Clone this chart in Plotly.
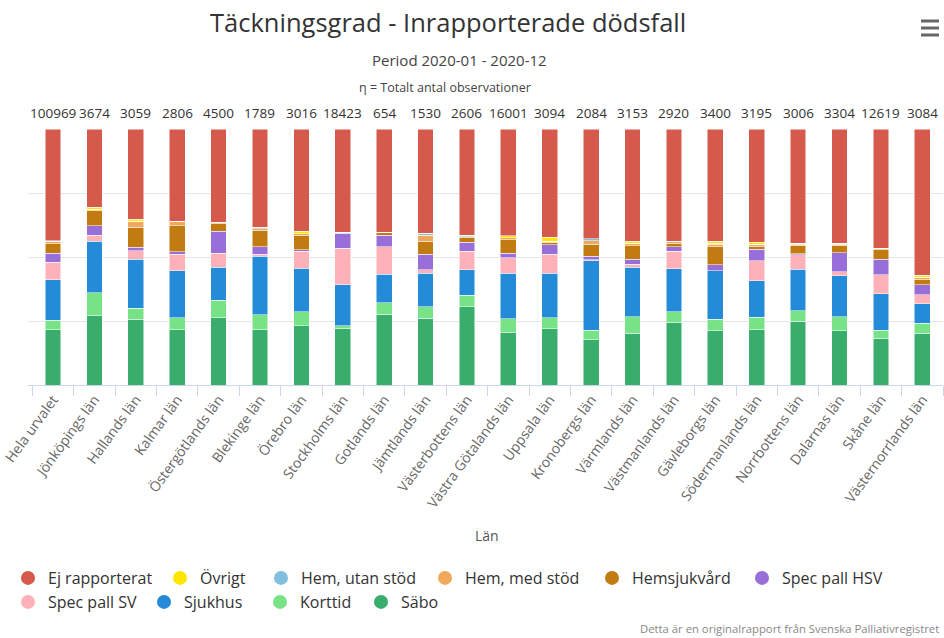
import plotly.graph_objects as go

categories = ["Hela urvalet", "Jönköpings län", "Hallands län", "Kalmar län", "Östergötlands län",
              "Blekinge län", "Örebro län", "Stockholms län", "Gotlands län", "Jämtlands län",
              "Västerbottens län", "Västra Götalands län", "Uppsala län", "Kronobergs län",
              "Värmlands län", "Västmanlands län", "Gävleborgs län", "Södermanlands län",
              "Norrbottens län", "Dalarnas län", "Skåne län", "Västernorrlands län"]

n_obs = [100969, 3674, 3059, 2806, 4500, 1789, 3016, 18423, 654, 1530, 2606, 16001,
         3094, 2084, 3153, 2920, 3400, 3195, 3006, 3304, 12619, 3084]

# stacked bottom -> top (percent)
sabo = [21.5, 27.0, 25.7, 21.5, 26.2, 21.5, 23.1, 22.2, 27.6, 26.1, 30.6, 20.6, 22.0, 17.6, 20.2, 24.5, 21.1, 21.5, 25.0, 21.1, 18.3, 20.2]
korttid = [3.7, 9.1, 4.3, 4.7, 7.0, 6.0, 5.5, 1.0, 4.5, 4.5, 4.5, 5.2, 4.2, 3.7, 6.4, 4.1, 4.6, 5.0, 4.1, 5.5, 3.0, 3.9]
sjukhus = [15.9, 20.0, 19.2, 18.5, 12.8, 22.7, 17.0, 15.9, 11.1, 13.1, 10.0, 17.9, 17.5, 27.3, 19.4, 16.9, 18.9, 14.2, 16.1, 16.0, 14.4, 7.6]
spec_sv = [6.9, 2.4, 3.3, 6.3, 5.5, 0.9, 6.6, 14.4, 10.9, 1.3, 7.1, 6.1, 7.4, 0.3, 1.2, 6.7, 0.0, 7.8, 5.6, 1.6, 7.3, 3.5]
spec_hsv = [3.5, 3.7, 1.3, 1.0, 8.6, 3.0, 0.7, 5.7, 4.4, 6.1, 3.5, 1.7, 3.7, 1.3, 2.0, 1.9, 2.3, 4.6, 0.4, 7.4, 6.2, 3.9]
hemsjuk = [3.6, 5.9, 7.9, 10.2, 2.9, 6.3, 5.6, 0.4, 1.2, 5.1, 1.9, 5.2, 1.0, 4.8, 5.2, 1.3, 7.2, 1.1, 3.3, 3.0, 3.6, 2.3]
hem_med = [0.8, 0.6, 2.2, 1.8, 0.5, 0.6, 0.6, 0.0, 0.0, 2.3, 0.4, 0.9, 0.4, 1.3, 0.9, 0.7, 0.9, 0.7, 0.4, 0.3, 0.7, 0.7]
hem_utan = [0.2, 0.0, 0.0, 0.0, 0.1, 0.5, 0.0, 0.0, 0.0, 0.7, 0.5, 0.0, 0.0, 0.8, 0.0, 0.0, 0.3, 0.0, 0.4, 0.5, 0.0, 0.0]
ovrigt = [0.2, 0.8, 0.9, 0.0, 0.0, 0.2, 1.0, 0.0, 0.0, 0.0, 0.0, 0.8, 1.6, 0.0, 0.9, 0.0, 0.8, 0.9, 0.0, 0.0, 0.0, 0.7]
ej_rapp = [43.7, 30.5, 35.2, 36.0, 36.4, 38.3, 39.9, 40.4, 40.3, 40.8, 41.5, 41.6, 42.2, 42.9, 43.8, 43.9, 43.9, 44.2, 44.7, 44.6, 46.5, 57.2]

series = [
    ("Säbo", sabo, "#39ae6c"),
    ("Korttid", korttid, "#77e386"),
    ("Sjukhus", sjukhus, "#248bd8"),
    ("Spec pall SV", spec_sv, "#ffb1b9"),
    ("Spec pall HSV", spec_hsv, "#986fd8"),
    ("Hemsjukvård", hemsjuk, "#c27b10"),
    ("Hem, med stöd", hem_med, "#f2a85c"),
    ("Hem, utan stöd", hem_utan, "#80c0dc"),
    ("Övrigt", ovrigt, "#ffe500"),
    ("Ej rapporterat", ej_rapp, "#d65a4c"),
]

FONT = "Open Sans"
# plot area in pixels (for placing texts relative to it)
PL, PR, PT, PB = 28, 943, 129, 385
def px_x(x):
    return (x - PL) / (PR - PL)
def px_y(y):
    return (PB - y) / (PB - PT)

# legend entry positions (circle centre x, row centre y), in legend order
legend_pos = [(28, 578), (180, 578), (281, 578), (445, 578), (612, 578), (762, 578),
              (28, 602), (164, 602), (280, 602), (381, 602)]

fig = go.Figure()
for name, vals, col in series:
    fig.add_trace(go.Bar(x=categories, y=vals, name=name,
                         marker=dict(color=col, line=dict(color="white", width=0.5)),
                         showlegend=False))

legend_layouts = {}
for i, (name, vals, col) in enumerate(reversed(series)):
    key = "legend" if i == 0 else f"legend{i + 1}"
    fig.add_trace(go.Scatter(x=[None], y=[None], mode="markers", name=name, legend=key,
                             marker=dict(color=col, size=14, symbol="circle")))
    cx, cy = legend_pos[i]
    legend_layouts[key] = dict(orientation="h", xanchor="left", yanchor="middle", traceorder="normal",
                               x=px_x(cx - 20), y=px_y(cy),
                               font=dict(size=16, color="#333", family=FONT),
                               itemsizing="trace", bgcolor="rgba(0,0,0,0)")

ann = []
for c, n in zip(categories, n_obs):
    ann.append(dict(x=c, y=px_y(113), xref="x", yref="paper", text=str(n), showarrow=False,
                    font=dict(size=13.5, color="#333", family=FONT), yanchor="middle"))

ann += [
    dict(x=px_x(448), y=px_y(22), xref="paper", yref="paper", text="Täckningsgrad - Inrapporterade dödsfall",
         showarrow=False, font=dict(size=25.5, color="#333", family=FONT), yanchor="middle"),
    dict(x=px_x(459), y=px_y(60), xref="paper", yref="paper", text="Period 2020-01 - 2020-12",
         showarrow=False, font=dict(size=15, color="#444", family=FONT), yanchor="middle"),
    dict(x=px_x(445), y=px_y(87), xref="paper", yref="paper", text="η = Totalt antal observationer",
         showarrow=False, font=dict(size=12.5, color="#444", family=FONT), yanchor="middle"),
    dict(x=px_x(487), y=px_y(535), xref="paper", yref="paper", text="Län",
         showarrow=False, font=dict(size=14, color="#555", family=FONT), yanchor="middle"),
    dict(x=px_x(638), y=px_y(628), xref="paper", yref="paper", xanchor="left",
         text="Detta är en originalrapport från Svenska Palliativregistret",
         showarrow=False, font=dict(size=11.3, color="#888", family=FONT), yanchor="middle"),
]

# hamburger menu icon
shapes = []
for yy in (21, 28, 35):
    shapes.append(dict(type="line", xref="paper", yref="paper", x0=px_x(921), x1=px_x(939),
                       y0=px_y(yy), y1=px_y(yy), line=dict(color="#666", width=3)))

fig.update_layout(
    barmode="stack",
    bargap=0.62,
    width=944, height=638,
    margin=dict(l=PL, r=944 - PR, t=PT, b=638 - PB, autoexpand=False),
    paper_bgcolor="white", plot_bgcolor="white",
    font=dict(family=FONT, color="#333"),
    showlegend=True,
    annotations=ann,
    shapes=shapes,
    **legend_layouts,
)
fig.update_xaxes(type="category", automargin=False, tickangle=-54,
                 tickfont=dict(size=14, color="#666", family=FONT),
                 showline=True, linecolor="#ccd6eb", linewidth=1, ticks="outside", tickson="boundaries",
                 ticklen=10, tickcolor="#ccd6eb", showgrid=False)
fig.update_yaxes(range=[0, 100], tickvals=[0, 25, 50, 75, 100], showticklabels=False, gridcolor="#e6e6e6",
                 zeroline=False, automargin=False)

fig.write_html("out.html", config={"displayModeBar": False},
               post_script="document.body.style.margin='0';")
